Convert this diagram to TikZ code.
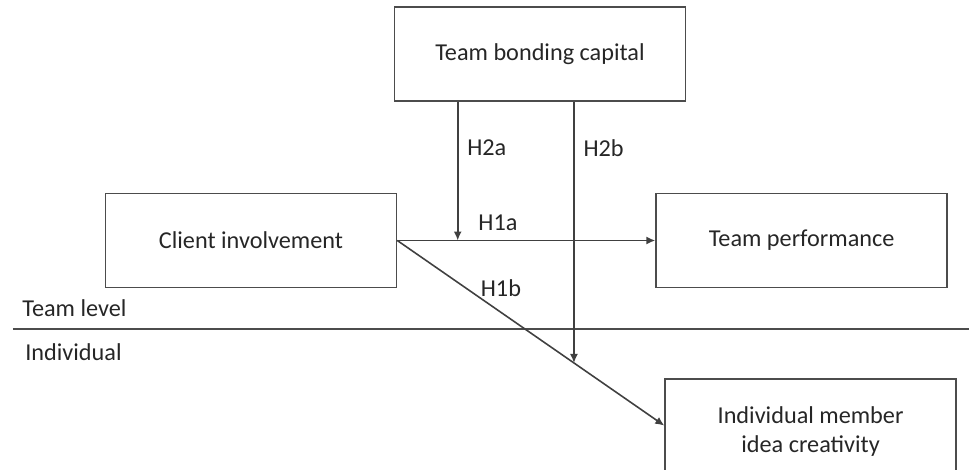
\documentclass[tikz,border=0pt]{standalone}
\usepackage{fontspec}
\setmainfont{Carlito}
\usepackage{tikz}
\usetikzlibrary{arrows.meta, positioning, calc}

\begin{document}
\begin{tikzpicture}[
    node distance=1.8cm and 5.16cm,
    every node/.style={font=\fontsize{13.8}{16.5}\selectfont, text=black!85},
    box/.style={rectangle, draw=black!70, line width=0.9pt, minimum width=5.82cm, minimum height=1.88cm, align=center, inner sep=0pt},
    arrow/.style={-{Latex[length=1.8mm, width=1.6mm]}, draw=black!75, line width=0.9pt},
    hyp/.style={inner sep=1pt}
]
\useasboundingbox (0,0) rectangle (19.38,-9.38);
\node[box] (client) at (5.02,-4.81) {Client involvement};
\node[box, right=of client] (perf) {Team performance};
\node[box, above=1.82cm of client, xshift=5.78cm] (bonding) {Team bonding capital};
\node[box, below=of perf, xshift=0.18cm, minimum height=2.1cm] (indiv) {Individual member\\idea creativity};
% level divider
\coordinate (sepL) at (0.26,-6.58);
\coordinate (sepR) at (19.38,-6.58);
\draw[draw=black!70, line width=0.9pt] (sepL) -- (sepR);
\node[anchor=west, inner sep=0pt] (teamlvl) at (0.44,-6.16) {Team level};
\node[anchor=west, inner sep=0pt] (indivlvl) at (0.5,-7.04) {Individual};
% hypotheses
\coordinate (h2a) at ([xshift=1.28cm]bonding.south west);
\coordinate (tip1b) at ([yshift=0.12cm]indiv.west);
\coordinate (m2b) at ($(client.east)!0.6617!(tip1b)$);
\draw[arrow] (client.east) -- node[hyp, pos=0.39, above=4pt] {H1a} (perf.west);
\draw[arrow] (client.east) -- node[hyp, pos=0.31, anchor=south west, inner sep=0pt] {H1b} (tip1b);
\draw[arrow] (h2a) -- node[hyp, pos=0.33, right=4pt] {H2a} (h2a |- client.east);
\draw[arrow] (m2b |- bonding.south) -- node[hyp, pos=0.176, right=4pt] {H2b} (m2b);
\end{tikzpicture}
\end{document}
